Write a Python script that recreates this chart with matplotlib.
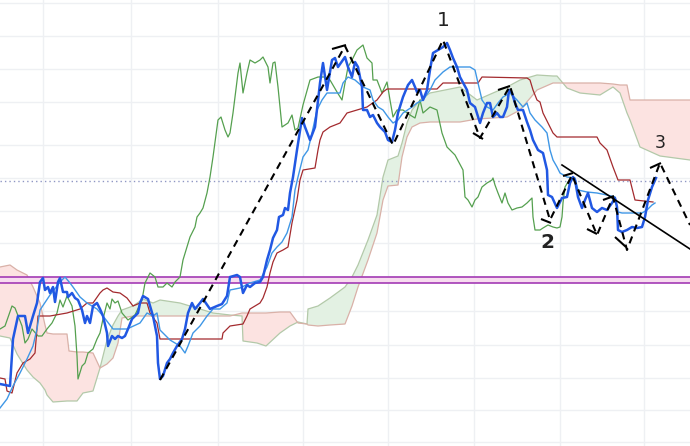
import numpy as np
import matplotlib
matplotlib.use("Agg")
import matplotlib.pyplot as plt

# --- price (thick blue) ---
price_bars = [0, 10, 13, 18, 25, 28, 33, 37, 40, 43,
              45, 48, 50, 53, 55, 58, 60, 63, 67, 68,
              72, 75, 78, 82, 85, 87, 90, 93, 97, 100,
              103, 107, 108, 112, 115, 118, 122, 125, 128, 132,
              135, 138, 140, 143, 148, 153, 157, 158, 160, 163,
              167, 170, 173, 177, 182, 185, 188, 192, 195, 200,
              203, 210, 217, 222, 227, 230, 237, 240, 243, 247,
              250, 255, 260, 263, 267, 270, 273, 277, 279, 283,
              285, 288, 290, 293, 297, 302, 305, 310, 315, 320,
              323, 327, 332, 335, 338, 345, 348, 352, 355, 358,
              362, 363, 367, 370, 373, 377, 380, 385, 388, 392,
              395, 398, 403, 408, 412, 415, 417, 420, 423, 427,
              430, 433, 438, 443, 447, 450, 453, 457, 460, 467,
              470, 475, 480, 483, 487, 490, 493, 497, 500, 503,
              507, 509, 512, 515, 518, 523, 527, 530, 533, 538,
              543, 547, 548, 552, 557, 560, 562, 567, 570, 573,
              575, 578, 582, 585, 588, 592, 597, 602, 607, 612,
              615, 617, 618, 622, 627, 632, 637, 642, 645, 648,
              652, 656]
price = [66, 64, 111, 134, 134, 117, 134, 147, 168, 172,
         160, 163, 157, 163, 148, 168, 172, 158, 158, 153,
         157, 152, 150, 140, 127, 134, 127, 144, 147, 141,
         134, 117, 104, 114, 111, 114, 112, 114, 121, 131,
         134, 137, 147, 154, 151, 134, 114, 87, 71, 74,
         87, 91, 97, 104, 111, 121, 137, 147, 141, 147,
         151, 141, 144, 146, 154, 173, 175, 173, 157, 165,
         163, 167, 168, 173, 190, 200, 212, 220, 233, 235,
         242, 240, 257, 273, 300, 332, 323, 310, 323, 367,
         387, 360, 390, 392, 383, 393, 383, 373, 388, 383,
         363, 340, 340, 333, 335, 327, 323, 318, 310, 308,
         320, 337, 353, 365, 370, 363, 358, 360, 350, 360,
         380, 397, 400, 403, 407, 400, 392, 383, 373, 360,
         347, 343, 327, 337, 347, 347, 333, 337, 333, 333,
         343, 360, 357, 347, 340, 340, 328, 320, 310, 300,
         297, 280, 255, 253, 242, 248, 252, 253, 267, 273,
         270, 253, 242, 250, 257, 242, 238, 242, 240, 247,
         252, 243, 220, 218, 220, 223, 222, 223, 233, 250,
         263, 272]

# --- conversion line (light blue) ---
conv_bars = [0, 7, 13, 20, 27, 33, 37, 40, 50, 60,
             65, 70, 73, 80, 87, 97, 103, 113, 127, 140,
             147, 153, 157, 160, 170, 180, 185, 188, 193, 200,
             207, 213, 220, 227, 230, 240, 250, 260, 267, 272,
             277, 282, 287, 292, 295, 298, 303, 308, 312, 317,
             322, 327, 340, 343, 348, 355, 363, 370, 373, 378,
             383, 388, 393, 398, 403, 412, 417, 423, 430, 435,
             443, 450, 470, 475, 478, 482, 487, 493, 498, 503,
             510, 517, 523, 527, 530, 535, 542, 547, 550, 553,
             557, 560, 567, 575, 578, 587, 597, 607, 615, 618,
             622, 642, 647, 652, 655]
conversion = [42, 51, 64, 77, 91, 104, 121, 140, 155, 168,
              173, 167, 163, 153, 147, 141, 134, 121, 121, 127,
              137, 134, 137, 120, 110, 104, 97, 104, 117, 124,
              134, 141, 141, 147, 160, 162, 167, 170, 183, 197,
              203, 208, 217, 233, 260, 273, 293, 300, 317, 340,
              350, 357, 357, 367, 373, 370, 363, 360, 350, 343,
              340, 333, 327, 330, 337, 343, 347, 350, 360, 370,
              378, 383, 383, 380, 367, 350, 343, 340, 347, 353,
              357, 350, 343, 347, 337, 330, 323, 317, 300, 290,
              283, 277, 273, 272, 260, 258, 257, 255, 253, 238,
              237, 237, 240, 245, 247]

# --- base line (dark red) ---
base_bars = [0, 5, 7, 12, 17, 23, 30, 35, 38, 50,
             67, 80, 87, 93, 100, 103, 107, 113, 120, 127,
             133, 140, 147, 150, 157, 160, 222, 223, 230, 243,
             247, 250, 255, 260, 263, 267, 270, 273, 277, 283,
             288, 292, 297, 300, 303, 315, 318, 320, 323, 330,
             340, 347, 357, 367, 377, 383, 387, 437, 443, 478,
             482, 527, 530, 533, 537, 540, 543, 548, 553, 557,
             597, 600, 607, 613, 618, 630, 635, 653]
base = [72, 71, 59, 57, 77, 87, 91, 97, 134, 134,
        137, 141, 147, 147, 157, 160, 162, 158, 157, 152,
        144, 147, 147, 137, 127, 111, 111, 117, 124, 126,
        134, 141, 144, 147, 152, 163, 177, 188, 197, 200,
        203, 227, 250, 270, 280, 282, 300, 310, 318, 323,
        327, 337, 340, 343, 350, 358, 361, 361, 367, 367,
        373, 372, 370, 360, 350, 348, 337, 327, 317, 313,
        313, 307, 300, 283, 270, 270, 250, 248]

# --- lagging span (green) ---
lag_bars = [0, 5, 12, 15, 22, 25, 28, 32, 38, 42,
            47, 52, 57, 60, 63, 67, 72, 75, 77, 78,
            82, 85, 88, 93, 97, 100, 103, 107, 110, 112,
            115, 118, 122, 128, 135, 142, 145, 150, 155, 158,
            163, 167, 172, 175, 180, 183, 187, 190, 195, 197,
            200, 203, 207, 210, 213, 218, 221, 225, 228, 230,
            233, 238, 240, 243, 247, 250, 255, 260, 263, 268,
            270, 273, 275, 278, 282, 285, 288, 292, 295, 298,
            303, 310, 318, 325, 330, 337, 342, 345, 348, 352,
            357, 363, 367, 372, 373, 377, 382, 387, 390, 393,
            397, 403, 410, 415, 420, 423, 430, 437, 442, 447,
            455, 463, 465, 468, 472, 475, 478, 482, 487, 492,
            493, 495, 498, 502, 505, 508, 512, 517, 522, 527,
            532, 533, 535, 540, 543, 548, 553, 557, 560, 562,
            563, 565, 568, 572]
lagging = [121, 124, 144, 142, 124, 107, 111, 121, 114, 114,
           121, 127, 137, 150, 143, 154, 144, 124, 94, 71,
           84, 87, 97, 101, 111, 117, 131, 147, 141, 151,
           147, 149, 137, 130, 135, 150, 167, 177, 173, 163,
           163, 167, 163, 168, 173, 190, 203, 213, 223, 233,
           237, 242, 257, 273, 293, 330, 333, 320, 313, 317,
           337, 377, 387, 357, 377, 390, 387, 390, 393, 383,
           367, 387, 388, 363, 323, 325, 327, 335, 320, 322,
           345, 370, 373, 373, 370, 358, 350, 367, 383, 390,
           400, 405, 392, 387, 370, 370, 357, 368, 350, 333,
           340, 340, 335, 332, 350, 337, 343, 340, 317, 303,
           295, 280, 253, 250, 243, 250, 253, 263, 267, 270,
           272, 265, 257, 247, 257, 247, 240, 242, 243, 247,
           252, 233, 220, 220, 222, 225, 223, 222, 223, 233,
           247, 263, 268, 272]

# --- cloud (leading spans) ---
cloud_bars = [0, 10, 17, 27, 33, 40, 45, 47, 53, 67,
              69, 77, 83, 93, 100, 107, 113, 118, 122, 133,
              143, 153, 160, 180, 200, 213, 230, 242, 243, 257,
              266, 280, 290, 298, 307, 308, 318, 330, 345, 352,
              358, 368, 377, 383, 388, 398, 402, 407, 412, 420,
              430, 460, 477, 493, 507, 520, 537, 553, 557, 567,
              580, 600, 613, 620, 627, 630, 640, 660, 690]
span_a = [114, 112, 96, 80, 73, 67, 60, 55, 48, 49,
          49, 49, 57, 59, 82, 110, 125, 134, 140, 144,
          151, 147, 150, 147, 141, 137, 135, 134, 109, 107,
          104, 117, 124, 128, 126, 141, 144, 152, 163, 173,
          185, 210, 235, 273, 290, 294, 307, 327, 340, 350,
          357, 363, 350, 357, 363, 370, 375, 374, 374, 362,
          357, 355, 363, 357, 337, 330, 303, 294, 290]
span_b = [183, 185, 180, 175, 163, 147, 125, 117, 116, 116,
          99, 98, 98, 97, 82, 86, 92, 107, 132, 134,
          134, 134, 134, 134, 134, 134, 134, 137, 137, 137,
          137, 138, 138, 127, 126, 125, 124, 125, 126, 144,
          163, 190, 217, 250, 264, 265, 293, 313, 323, 327,
          328, 328, 331, 332, 333, 340, 360, 367, 367, 367,
          367, 367, 366, 365, 365, 350, 350, 350, 350]

# --- annotations ---
zigzag_bars = [160, 345, 393, 443, 480, 510, 550, 572, 597, 613, 627, 660, 690]
zigzag = [70, 404, 305, 410, 312, 364, 230, 275, 215, 253, 200, 287, 225]
# short strokes drawn across the pivots
pivot_tick_bars = [(332, 346), (473, 483), (498, 510), (541, 551), (563, 573),
                   (587, 597), (603, 614), (615, 626), (650, 661)]
pivot_tick_price = [(401, 405), (317, 311), (360, 364), (231, 227), (274, 277),
                    (221, 216), (250, 254), (213, 203), (282, 287)]
trend_bars = [562, 690]
trend = [285, 201]
wave_labels = ["1", "2", "3"]
wave_bars = [443, 547, 660]
wave_price = [430, 207, 307]
zone_levels = [173, 167]
last_level = 269
grid_prices = [447, 414, 381, 348, 305, 272, 239, 207, 173, 139, 105, 72, 40, 8]
grid_bars = [43, 131, 218, 303, 388, 474, 560, 644]

fig = plt.figure(figsize=(6.9, 4.46), dpi=100)
ax = fig.add_axes([0, 0, 1, 1])
ax.set_xlim(0, 690)
ax.set_ylim(4, 450)
ax.axis("off")

for g in grid_prices:
    ax.axhline(g, color="#eef0f3", lw=1.0, zorder=0)
for g in grid_bars:
    ax.axvline(g, color="#eef0f3", lw=1.0, zorder=0)

a = np.array(span_a)
b = np.array(span_b)
ax.fill_between(cloud_bars, a, b, where=a >= b, interpolate=True,
                color="#e3f1e3", lw=0, zorder=1)
ax.fill_between(cloud_bars, a, b, where=a < b, interpolate=True,
                color="#fce3e1", lw=0, zorder=1)
ax.plot(cloud_bars, span_a, color="#b3c9a9", lw=0.9, zorder=2)
ax.plot(cloud_bars, span_b, color="#d9b1a8", lw=0.9, zorder=2)

# support zone
ax.fill_between([0, 690], zone_levels[1], zone_levels[0], color="#f7dcef", lw=0, zorder=2)
for z in zone_levels:
    ax.axhline(z, color="#a33bb5", lw=1.2, zorder=3)

ax.axhline(last_level, color="#8f97c4", lw=1.0, ls=(0, (1, 2.2)), zorder=3)

ax.plot(lag_bars, lagging, color="#55a04f", lw=0.9, zorder=4)
ax.plot(base_bars, base, color="#a32a2e", lw=0.9, zorder=4)
ax.plot(conv_bars, conversion, color="#3f97e6", lw=1.0, zorder=5)
ax.plot(price_bars, price, color="#2158e3", lw=1.8, zorder=6)

ax.plot(zigzag_bars, zigzag, color="black", lw=1.5, dashes=(3.5, 2.6), zorder=7)
for xs, ys in zip(pivot_tick_bars, pivot_tick_price):
    ax.plot(xs, ys, color="black", lw=1.5, solid_capstyle="butt", zorder=7)
ax.plot(trend_bars, trend, color="black", lw=1.2, zorder=7)

ax.text(wave_bars[0], wave_price[0], wave_labels[0], fontsize=14.5,
        ha="center", va="center", color="#222222", zorder=8)
ax.text(wave_bars[1], wave_price[1], wave_labels[1], fontsize=14.5,
        fontweight="bold", ha="center", va="center", color="#222222", zorder=8)
ax.text(wave_bars[2], wave_price[2], wave_labels[2], fontsize=12.5,
        ha="center", va="center", color="#222222", zorder=8)

fig.savefig("out.png", dpi=100)
